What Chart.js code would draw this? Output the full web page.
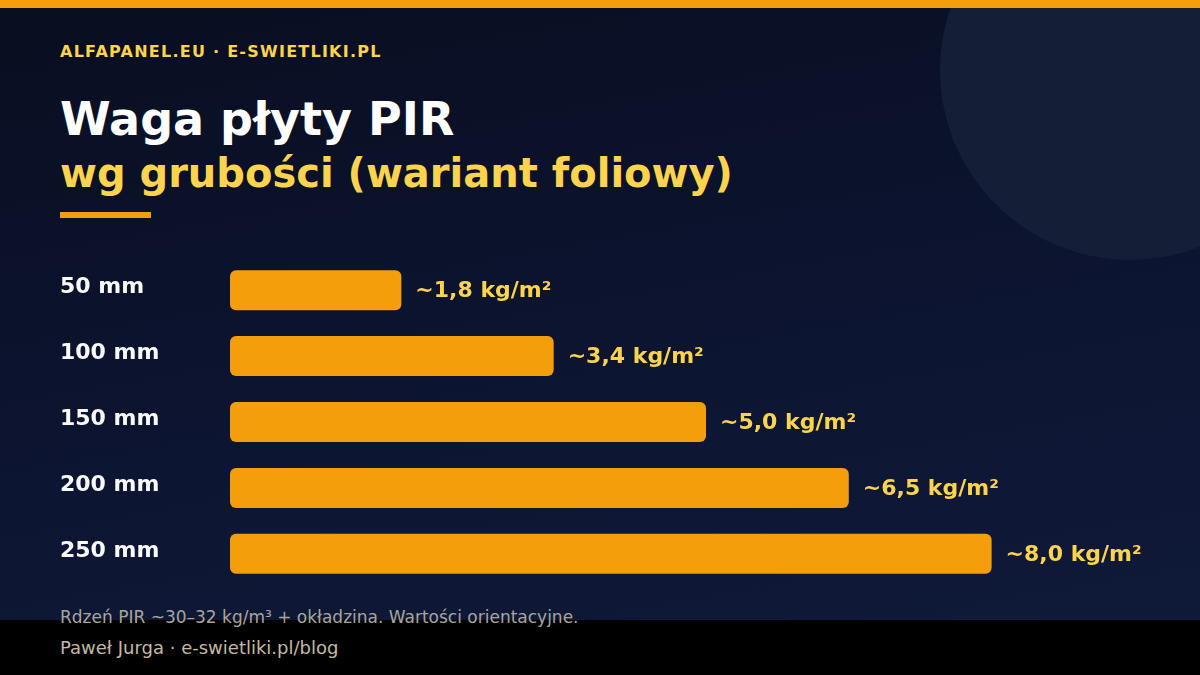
<!DOCTYPE html>
<html lang="pl">
<head>
<meta charset="utf-8">
<script src="https://cdn.jsdelivr.net/npm/chart.js@4.4.1/dist/chart.umd.min.js"></script>
<style>
  html, body { margin: 0; padding: 0; }
  body {
    width: 1200px; height: 675px; overflow: hidden; position: relative;
    background: linear-gradient(170deg, #090e20 0%, #0c1430 50%, #101b3a 100%);
    font-family: "DejaVu Sans", sans-serif;
  }
  .circle { position: absolute; right: -120px; top: -120px; width: 380px; height: 380px; border-radius: 50%; background: #141e37; }
  .topbar { position: absolute; left: 0; top: 0; width: 1200px; height: 8px; background: #f59e0b; }
  .txt { position: absolute; left: 60px; line-height: 1; white-space: nowrap; }
  .brand { top: 43.5px; font-size: 16px; font-weight: bold; letter-spacing: 1.25px; color: #fcd34d; }
  .title { top: 96px; font-size: 46px; font-weight: bold; color: #ffffff; }
  .subtitle { top: 152.5px; font-size: 40px; font-weight: bold; color: #fcd34d; }
  .rule { position: absolute; left: 60px; top: 212px; width: 91px; height: 6px; background: #f59e0b; }
  .footer { position: absolute; left: 0; top: 620px; width: 1200px; height: 55px; background: #000; }
  .note { top: 609px; font-size: 17px; color: #a9a59c; z-index: 2; }
  .author { top: 639px; font-size: 18px; color: #c4b9a6; z-index: 2; }
  .chartbox { position: absolute; left: 0; top: 241px; width: 1200px; height: 362px; }
</style>
</head>
<body>
<div class="circle"></div>
<div class="topbar"></div>
<div class="txt brand">ALFAPANEL.EU · E-SWIETLIKI.PL</div>
<div class="txt title">Waga płyty PIR</div>
<div class="txt subtitle">wg grubości (wariant foliowy)</div>
<div class="rule"></div>
<div class="chartbox"><canvas id="c"></canvas></div>
<div class="footer"></div>
<div class="txt note">Rdzeń PIR ~30–32 kg/m³ + okładzina. Wartości orientacyjne.</div>
<div class="txt author">Paweł Jurga · e-swietliki.pl/blog</div>
<script>
const categories = ['50 mm', '100 mm', '150 mm', '200 mm', '250 mm'];
const weights = [1.8, 3.4, 5.0, 6.5, 8.0];
const unit = 'kg/m²';

const valueLabels = {
  id: 'valueLabels',
  afterDatasetsDraw(chart) {
    const ctx = chart.ctx;
    const meta = chart.getDatasetMeta(0);
    ctx.save();
    ctx.font = 'bold 22px "DejaVu Sans"';
    ctx.fillStyle = '#fcd34d';
    ctx.textAlign = 'left';
    ctx.textBaseline = 'alphabetic';
    meta.data.forEach((bar, i) => {
      const txt = '~' + weights[i].toFixed(1).replace('.', ',') + ' ' + unit;
      ctx.fillText(txt, bar.x + 14, bar.y + 6.7);
    });
    ctx.restore();
  }
};

new Chart(document.getElementById('c'), {
  type: 'bar',
  data: {
    labels: categories,
    datasets: [{
      data: weights,
      backgroundColor: '#f59e0b',
      borderRadius: 6,
      borderSkipped: false,
      categoryPercentage: 1,
      barPercentage: 40 / 66
    }]
  },
  options: {
    indexAxis: 'y',
    responsive: true,
    maintainAspectRatio: false,
    animation: false,
    layout: { padding: { left: 60, right: 18, top: 0, bottom: 0 } },
    plugins: { legend: { display: false }, tooltip: { enabled: false } },
    scales: {
      x: { display: false, min: 0, max: 10 },
      y: {
        grid: { display: false, drawTicks: false },
        border: { display: false },
        afterFit(scale) { scale.width = 170; },
        ticks: {
          crossAlign: 'far',
          labelOffset: -3,
          color: '#f8fafc',
          font: { family: '"DejaVu Sans"', size: 22, weight: 'bold' }
        }
      }
    }
  },
  plugins: [valueLabels]
});
</script>
</body>
</html>
